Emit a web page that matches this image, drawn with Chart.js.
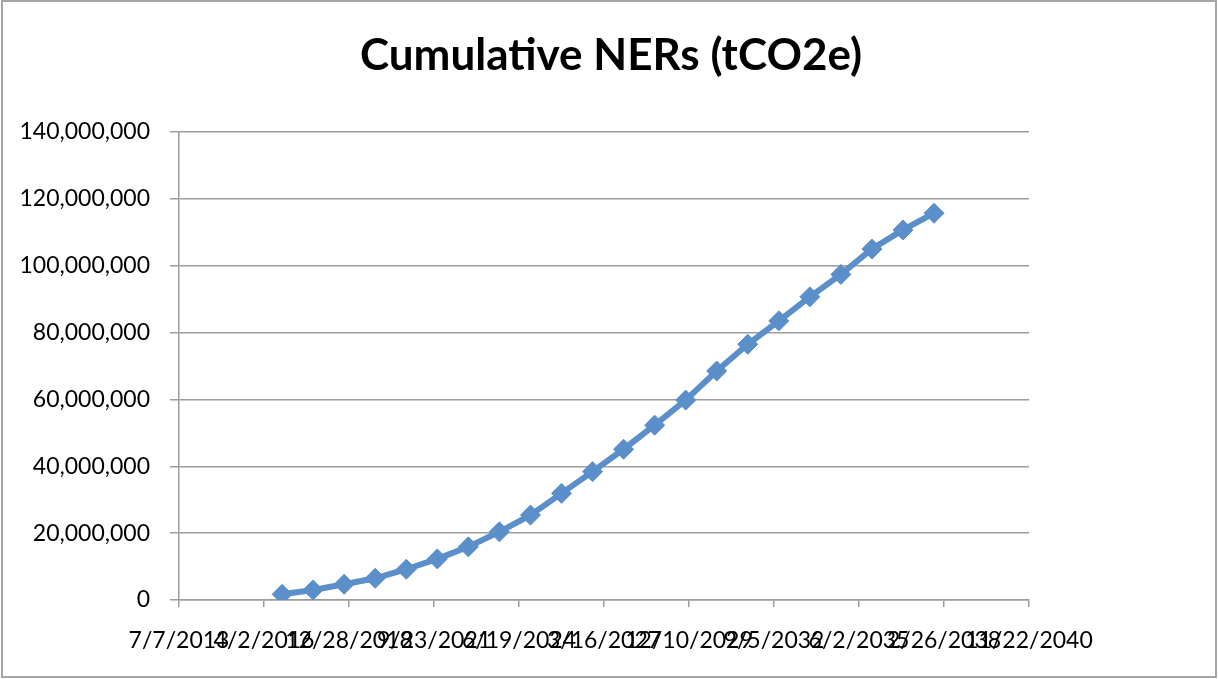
<!DOCTYPE html>
<html>
<head>
<meta charset="utf-8">
<title>Cumulative NERs</title>
<script src="https://cdn.jsdelivr.net/npm/chart.js@4.4.1/dist/chart.umd.min.js"></script>
<style>
    body { margin: 0; background: #fff; }
    canvas { display: block; }
</style>
</head>
<body>
<canvas id="ners" width="1218" height="679"></canvas>
<script>
// fechas de cada punto (una por año)
const dates = ['11/1/2016','11/1/2017','11/1/2018','11/1/2019','11/1/2020','11/1/2021','11/1/2022','11/1/2023',
               '11/1/2024','11/1/2025','11/1/2026','11/1/2027','11/1/2028','11/1/2029','11/1/2030','11/1/2031',
               '11/1/2032','11/1/2033','11/1/2034','11/1/2035','11/1/2036','11/1/2037'];

// NERs acumulados (tCO2e)
const ners = [1700000, 3000000, 4700000, 6500000, 9200000, 12300000, 15900000, 20400000,
              25400000, 31900000, 38400000, 45100000, 52300000, 59800000, 68500000, 76500000,
              83500000, 90700000, 97400000, 105000000, 110700000, 115700000];

// etiquetas del eje x (cada 1000 dias, como en Excel)
const xTicks = ['7/7/2013','4/2/2016','12/28/2018','9/23/2021','6/19/2024','3/16/2027',
                '12/10/2029','9/5/2032','6/2/2035','2/26/2038','11/22/2040'];

const yTicks = [0, 20000000, 40000000, 60000000, 80000000, 100000000, 120000000, 140000000];

const chartTitle = 'Cumulative NERs (tCO2e)';

// fecha m/d/yyyy -> numero de serie de Excel
function serial(str){
    const p = str.split('/').map(Number);
    return Math.round((Date.UTC(p[2], p[0]-1, p[1]) - Date.UTC(1899, 11, 30)) / 86400000);
}
function fromSerial(n){
    const d = new Date(Date.UTC(1899, 11, 30) + n * 86400000);
    return (d.getUTCMonth()+1) + '/' + d.getUTCDate() + '/' + d.getUTCFullYear();
}

const points = dates.map((d, i) => ({x: serial(d), y: ners[i]}));
const xVals = xTicks.map(serial);

const blue = '#5b8fc9';
const gray = '#9c9c9c';
const font = 'Lato, "Open Sans", sans-serif';

// marco gris y titulo centrado en todo el canvas (no solo sobre el area del grafico)
const frame = {
    id: 'frame',
    beforeDraw(chart){
        const ctx = chart.ctx;
        ctx.save();
        ctx.fillStyle = '#fff';
        ctx.fillRect(0, 0, chart.width, chart.height);
        ctx.strokeStyle = '#a5a5a5';
        ctx.lineWidth = 2;
        ctx.strokeRect(2, 1, chart.width - 4, chart.height - 3);
        ctx.fillStyle = '#000';
        ctx.font = 'bold 44px ' + font;
        ctx.textAlign = 'center';
        ctx.textBaseline = 'middle';
        ctx.fillText(chartTitle, chart.width / 2 + 2, 56);
        ctx.restore();
    }
};

new Chart(
    document.getElementById('ners'),
    {
        type: 'line',
        data: {
            datasets: [{
                label: chartTitle,
                data: points,
                borderColor: blue,
                backgroundColor: blue,
                borderWidth: 6,
                tension: 0,
                pointStyle: 'rectRot',
                pointRadius: 10,
                pointHoverRadius: 10,
                pointBorderWidth: 1,
                pointBackgroundColor: blue,
                pointBorderColor: blue
            }]
        },
        options: {
            responsive: false,
            animation: false,
            layout: { padding: { left: 0, right: 189, top: 132, bottom: 0 } },
            plugins: {
                legend: { display: false },
                tooltip: { enabled: false },
                title: { display: false }
            },
            scales: {
                x: {
                    type: 'linear',
                    min: xVals[0],
                    max: xVals[xVals.length - 1],
                    afterBuildTicks(scale){
                        scale.ticks = xVals.map(v => ({ value: v }));
                    },
                    afterFit(scale){ scale.height = 79; },
                    border: { display: true, color: gray, width: 1.5 },
                    grid: { drawOnChartArea: false, drawTicks: true, tickLength: 7, color: gray, lineWidth: 1.5 },
                    ticks: {
                        autoSkip: false,
                        maxRotation: 0,
                        minRotation: 0,
                        padding: 20,
                        color: '#000',
                        font: { family: font, size: 23 },
                        callback: (v) => fromSerial(v)
                    }
                },
                y: {
                    min: 0,
                    max: 140000000,
                    afterBuildTicks(scale){
                        scale.ticks = yTicks.map(v => ({ value: v }));
                    },
                    afterFit(scale){ scale.width = 179; },
                    border: { display: true, color: gray, width: 1.5 },
                    grid: { color: gray, lineWidth: 1.5, tickLength: 9 },
                    ticks: {
                        padding: 20,
                        color: '#000',
                        font: { family: font, size: 23 },
                        callback: (v) => v.toLocaleString('en-US')
                    }
                }
            }
        },
        plugins: [frame]
    }
);
</script>
</body>
</html>
